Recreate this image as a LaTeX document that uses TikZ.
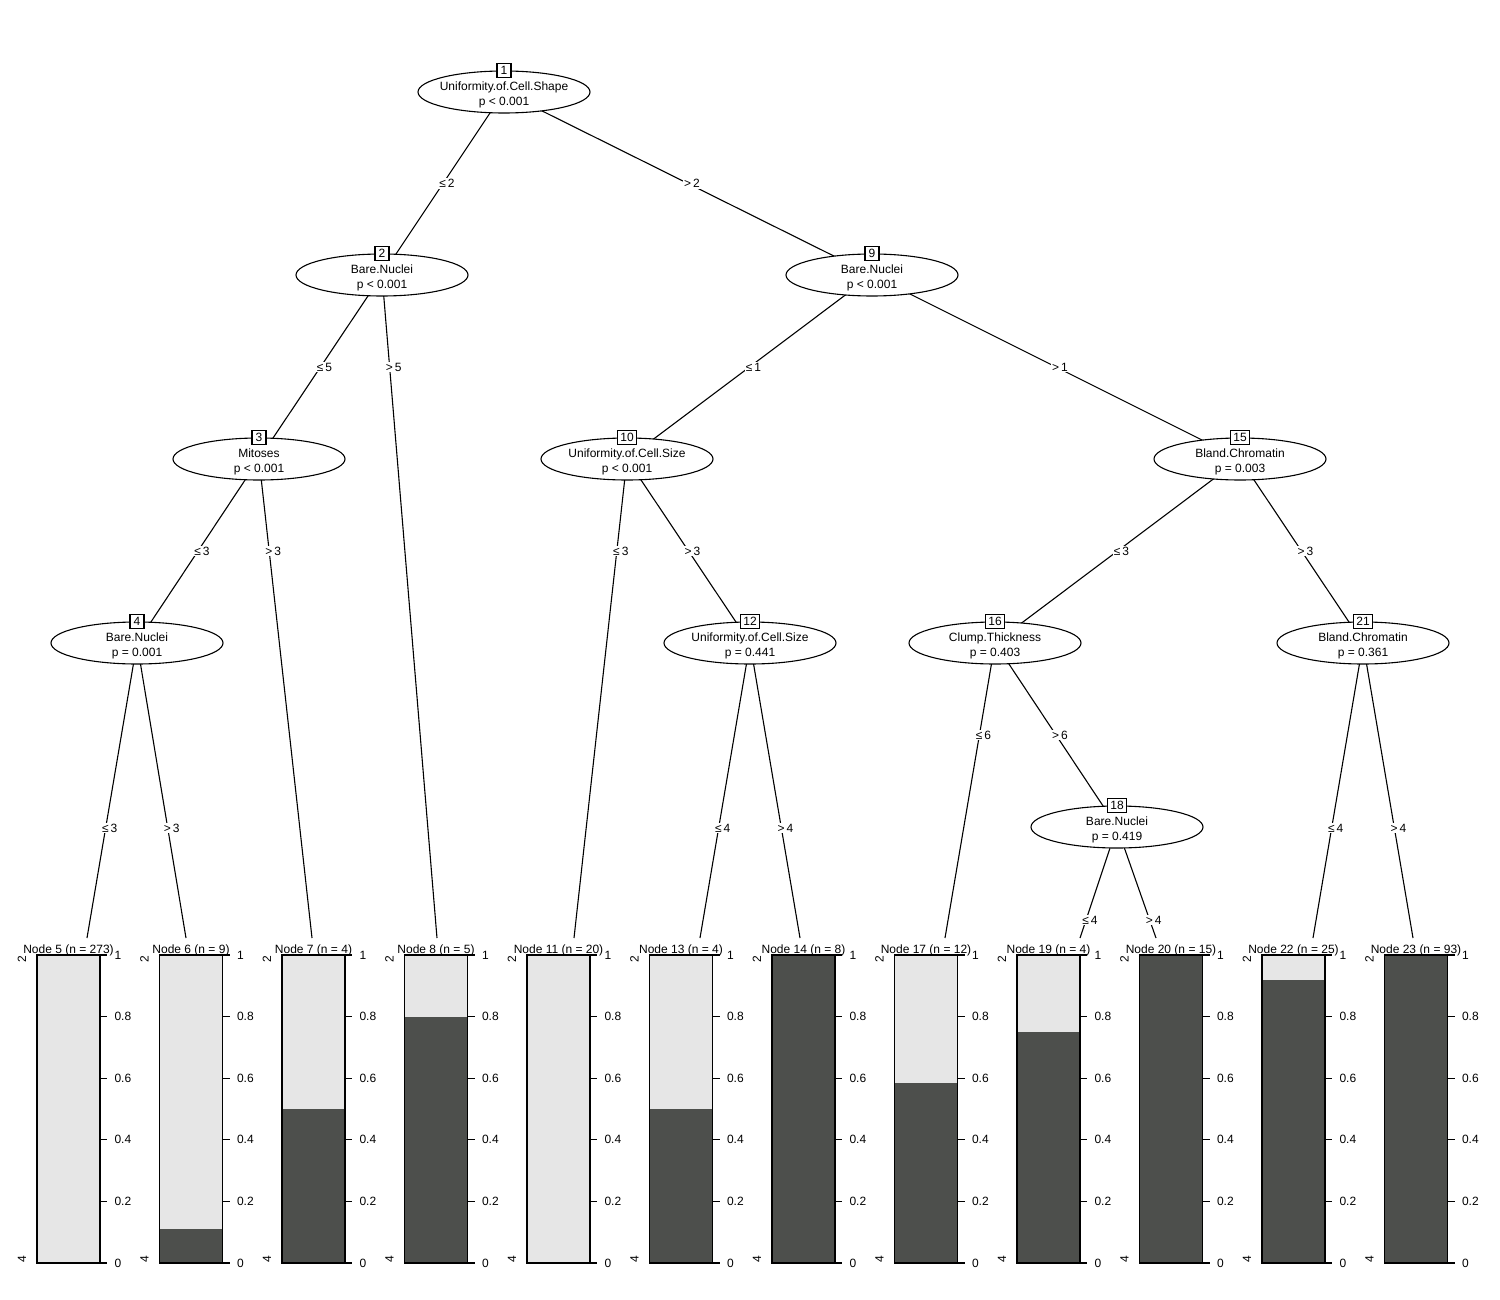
\documentclass[tikz,border=0pt]{standalone}
\usepackage{fontspec}
\setmainfont{Liberation Sans}
\usetikzlibrary{shapes.geometric,backgrounds}
\definecolor{barlight}{RGB}{230,230,230}
\definecolor{bardark}{RGB}{77,79,76}
\begin{document}
\begin{tikzpicture}[x=1pt,y=-1pt,line width=1.1pt,
  every node/.style={font=\fontsize{12}{15}\selectfont},
  split/.style={ellipse,draw,fill=white,minimum width=172pt,minimum height=42pt,inner sep=0pt},
  splittext/.style={align=center,inner sep=0pt,yshift=-2.5pt},
  idbox/.style={draw,fill=white,inner xsep=2.5pt,inner ysep=0pt,minimum width=14pt,minimum height=14pt},
  edgeline/.style={draw,line width=1.1pt},
  elabel/.style={fill=white,inner sep=1pt,xshift=4pt},
  ticklab/.style={anchor=west,inner sep=0pt},
  classlab/.style={rotate=90,inner sep=0pt}]
\useasboundingbox (0,0) rectangle (1500,1300);

% inner (split) nodes
\node[split,label={[splittext]center:{Uniformity.of.Cell.Shape\\p < 0.001}}] (n1)  at (504,92)   {};
\node[split,label={[splittext]center:{Bare.Nuclei\\p < 0.001}}]             (n2)  at (382,275)  {};
\node[split,label={[splittext]center:{Bare.Nuclei\\p < 0.001}}]             (n9)  at (872,275)  {};
\node[split,label={[splittext]center:{Mitoses\\p < 0.001}}]                 (n3)  at (259,459)  {};
\node[split,label={[splittext]center:{Uniformity.of.Cell.Size\\p < 0.001}}] (n10) at (627,459)  {};
\node[split,label={[splittext]center:{Bland.Chromatin\\p = 0.003}}]         (n15) at (1240,459) {};
\node[split,label={[splittext]center:{Bare.Nuclei\\p = 0.001}}]             (n4)  at (137,643)  {};
\node[split,label={[splittext]center:{Uniformity.of.Cell.Size\\p = 0.441}}] (n12) at (750,643)  {};
\node[split,label={[splittext]center:{Clump.Thickness\\p = 0.403}}]         (n16) at (995,643)  {};
\node[split,label={[splittext]center:{Bland.Chromatin\\p = 0.361}}]         (n21) at (1363,643) {};
\node[split,label={[splittext]center:{Bare.Nuclei\\p = 0.419}}]             (n18) at (1117,827) {};

% node numbers on top of the ellipses
\foreach \k in {1,2,9,3,10,15,4,12,16,21,18}
  \node[idbox] (id\k) at (n\k.north) {\k};

% terminal panels: number / left edge / share of class 4 / title
\foreach \nm/\L/\f/\ttl in {
  5/37/0/{Node 5 (n = 273)},
  6/159.5/0.111/{Node 6 (n = 9)},
  7/282/0.5/{Node 7 (n = 4)},
  8/404.5/0.8/{Node 8 (n = 5)},
  11/527/0/{Node 11 (n = 20)},
  13/649.5/0.5/{Node 13 (n = 4)},
  14/772/1/{Node 14 (n = 8)},
  17/894.5/0.583/{Node 17 (n = 12)},
  19/1017/0.75/{Node 19 (n = 4)},
  20/1139.5/1/{Node 20 (n = 15)},
  22/1262/0.92/{Node 22 (n = 25)},
  23/1384.5/1/{Node 23 (n = 93)}}{
  \fill[barlight] (\L,955) rectangle ++(63,308);
  \ifdim \f pt>0pt
    \fill[bardark] (\L,{1263-308*\f}) rectangle ++(63,{308*\f});
  \fi
  \draw (\L,955) rectangle ++(63,308);
  \node[anchor=base,inner sep=0pt] (t\nm) at (\L+31.5,953) {\ttl};
  \foreach \v in {0,0.2,0.4,0.6,0.8,1}
    \draw (\L+63,{1263-308*\v}) -- ++(7,0) node[ticklab,xshift=7pt] {\v};
  \node[classlab] at (\L-15,959) {2};
  \node[classlab] at (\L-15,1259) {4};
}

% upper ends of the edges into the terminal panels
\coordinate (e5)  at (87,938);
\coordinate (e6)  at (186,938);
\coordinate (e7)  at (312,938);
\coordinate (e8)  at (437,938);
\coordinate (e11) at (574,938);
\coordinate (e13) at (700,938);
\coordinate (e14) at (800,938);
\coordinate (e17) at (945,938);
\coordinate (e19) at (1080,938);
\coordinate (e20) at (1156,938);
\coordinate (e22) at (1313,938);
\coordinate (e23) at (1413,938);

\begin{pgfonlayer}{background}
\begin{scope}[line width=1.1pt]
  \path[edgeline] (n1.center) -- (n2.center) node[elabel,pos=0.5] {≤\,2};
  \path[edgeline] (n1.center) -- (n9.center) node[elabel,pos=0.5] {>\,2};
  \path[edgeline] (n2.center) -- (n3.center) node[elabel,pos=0.5] {≤\,5};
  \path[edgeline] (n2.center) -- (e8) node[elabel,pos=0.139] {>\,5};
  \path[edgeline] (n9.center) -- (n10.center) node[elabel,pos=0.5] {≤\,1};
  \path[edgeline] (n9.center) -- (n15.center) node[elabel,pos=0.5] {>\,1};
  \path[edgeline] (n3.center) -- (n4.center) node[elabel,pos=0.5] {≤\,3};
  \path[edgeline] (n3.center) -- (e7) node[elabel,pos=0.192] {>\,3};
  \path[edgeline] (n10.center) -- (e11) node[elabel,pos=0.192] {≤\,3};
  \path[edgeline] (n10.center) -- (n12.center) node[elabel,pos=0.5] {>\,3};
  \path[edgeline] (n15.center) -- (n16.center) node[elabel,pos=0.5] {≤\,3};
  \path[edgeline] (n15.center) -- (n21.center) node[elabel,pos=0.5] {>\,3};
  \path[edgeline] (n4.center) -- (e5) node[elabel,pos=0.627] {≤\,3};
  \path[edgeline] (n4.center) -- (e6) node[elabel,pos=0.627] {>\,3};
  \path[edgeline] (n12.center) -- (e13) node[elabel,pos=0.627] {≤\,4};
  \path[edgeline] (n12.center) -- (e14) node[elabel,pos=0.627] {>\,4};
  \path[edgeline] (n16.center) -- (e17) node[elabel,pos=0.312] {≤\,6};
  \path[edgeline] (n16.center) -- (n18.center) node[elabel,pos=0.5] {>\,6};
  \path[edgeline] (n21.center) -- (e22) node[elabel,pos=0.627] {≤\,4};
  \path[edgeline] (n21.center) -- (e23) node[elabel,pos=0.627] {>\,4};
  \path[edgeline] (n18.center) -- (e19) node[elabel,pos=0.838] {≤\,4};
  \path[edgeline] (n18.center) -- (e20) node[elabel,pos=0.838] {>\,4};
\end{scope}
\end{pgfonlayer}
\end{tikzpicture}
\end{document}
